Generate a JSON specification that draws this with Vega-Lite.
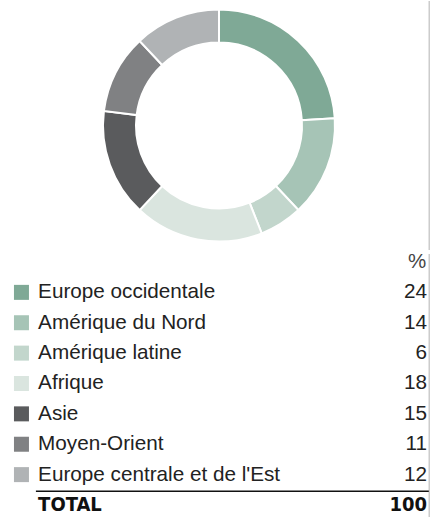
{
  "$schema": "https://vega.github.io/schema/vega-lite/v6.json",
  "padding": 0,
  "spacing": 0,
  "background": "white",
  "config": {"view": {"stroke": null}, "font": "Liberation Sans"},
  "datasets": {
    "regions": [
      {"order": 1, "label": "Europe occidentale", "value": 24},
      {"order": 2, "label": "Amérique du Nord", "value": 14},
      {"order": 3, "label": "Amérique latine", "value": 6},
      {"order": 4, "label": "Afrique", "value": 18},
      {"order": 5, "label": "Asie", "value": 15},
      {"order": 6, "label": "Moyen-Orient", "value": 11},
      {"order": 7, "label": "Europe centrale et de l'Est", "value": 12}
    ]
  },
  "vconcat": [
    {
      "width": 438,
      "height": 249,
      "layer": [
        {
          "data": {"name": "regions"},
          "mark": {"type": "arc", "innerRadius": 83, "outerRadius": 116, "stroke": "white", "strokeWidth": 2},
          "encoding": {
            "theta": {"field": "value", "type": "quantitative", "stack": true},
            "order": {"field": "order", "type": "quantitative"},
            "color": {
              "field": "label", "type": "nominal", "legend": null,
              "scale": {
                "domain": ["Europe occidentale", "Amérique du Nord", "Amérique latine", "Afrique", "Asie", "Moyen-Orient", "Europe centrale et de l'Est"],
                "range": ["#7fa996", "#a6c4b6", "#c2d6cc", "#dae5df", "#5a5b5d", "#808183", "#b0b3b5"]
              }
            }
          }
        },
        {
          "data": {"values": [{"v": 0}]},
          "mark": {"type": "rule", "color": "#cccccc", "strokeWidth": 1.5},
          "encoding": {
            "x": {"datum": 98, "type": "quantitative", "scale": {"domain": [0, 100]}, "axis": null}
          }
        }
      ]
    },
    {
      "width": 438,
      "height": 268,
      "resolve": {"scale": {"color": "independent"}},
      "encoding": {
        "y": {"field": "row", "type": "quantitative", "scale": {"domain": [-0.263, 8.56], "reverse": true}, "axis": null}
      },
      "layer": [
        {
          "data": {"values": [{"v": 0}]},
          "mark": {"type": "rule", "color": "#cccccc", "strokeWidth": 1.5},
          "encoding": {
            "x": {"datum": 98, "type": "quantitative", "scale": {"domain": [0, 100]}, "axis": null},
            "y": {"value": 0},
            "y2": {"value": 268}
          }
        },
        {
          "data": {"values": [{"row": 0, "t": "%"}]},
          "mark": {"type": "text", "align": "right", "baseline": "middle", "fontSize": 20.5, "color": "#444444"},
          "encoding": {
            "x": {"datum": 97.3, "type": "quantitative"},
            "text": {"field": "t"}
          }
        },
        {
          "data": {"name": "regions"},
          "transform": [{"calculate": "datum.order", "as": "row"}],
          "mark": {"type": "square", "size": 225, "opacity": 1},
          "encoding": {
            "x": {"datum": 4.9, "type": "quantitative"},
            "color": {
              "field": "label", "type": "nominal", "legend": null,
              "scale": {
                "domain": ["Europe occidentale", "Amérique du Nord", "Amérique latine", "Afrique", "Asie", "Moyen-Orient", "Europe centrale et de l'Est"],
                "range": ["#7fa996", "#a6c4b6", "#c2d6cc", "#dae5df", "#5a5b5d", "#808183", "#b0b3b5"]
              }
            }
          }
        },
        {
          "data": {"name": "regions"},
          "transform": [{"calculate": "datum.order", "as": "row"}],
          "mark": {"type": "text", "align": "left", "baseline": "middle", "fontSize": 20.7, "color": "#222222"},
          "encoding": {
            "x": {"datum": 8.7, "type": "quantitative"},
            "text": {"field": "label"}
          }
        },
        {
          "data": {"name": "regions"},
          "transform": [{"calculate": "datum.order", "as": "row"}],
          "mark": {"type": "text", "align": "right", "baseline": "middle", "fontSize": 20.7, "color": "#222222"},
          "encoding": {
            "x": {"datum": 97.5, "type": "quantitative"},
            "text": {"field": "value"}
          }
        },
        {
          "data": {"values": [{"row": 7.55}]},
          "mark": {"type": "rule", "color": "#111111", "strokeWidth": 1.5},
          "encoding": {
            "x": {"datum": 8.2, "type": "quantitative"},
            "x2": {"datum": 97.9}
          }
        },
        {
          "data": {"values": [{"row": 8, "label": "TOTAL", "value": 100}]},
          "mark": {"type": "text", "align": "left", "baseline": "middle", "fontSize": 20, "fontWeight": "bold", "font": "'DejaVu Sans Condensed', 'Liberation Sans', sans-serif", "color": "#111111"},
          "encoding": {
            "x": {"datum": 8.7, "type": "quantitative"},
            "text": {"field": "label"}
          }
        },
        {
          "data": {"values": [{"row": 8, "label": "TOTAL", "value": 100}]},
          "mark": {"type": "text", "align": "right", "baseline": "middle", "fontSize": 20, "fontWeight": "bold", "font": "'DejaVu Sans Condensed', 'Liberation Sans', sans-serif", "color": "#111111"},
          "encoding": {
            "x": {"datum": 97.5, "type": "quantitative"},
            "text": {"field": "value"}
          }
        }
      ]
    }
  ]
}
